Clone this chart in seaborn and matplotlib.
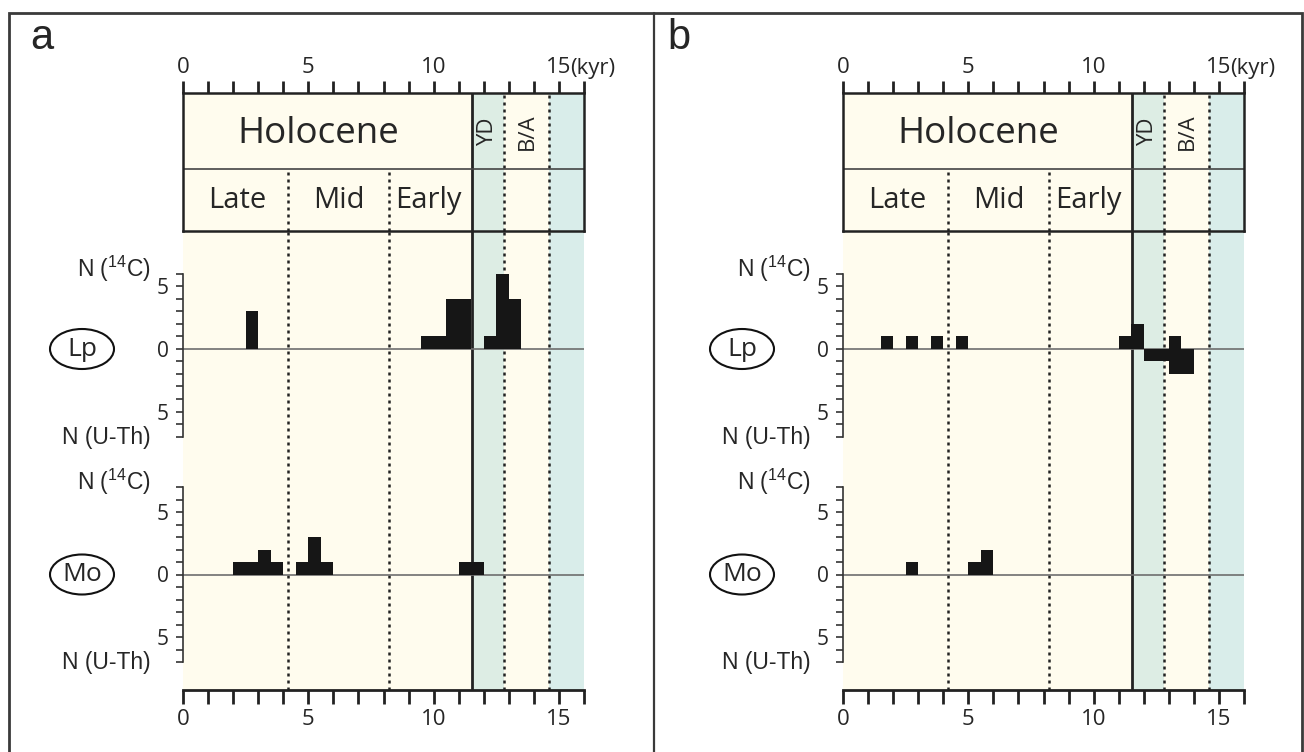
import numpy as np
import pandas as pd
import matplotlib
matplotlib.use("Agg")
import matplotlib.pyplot as plt
from matplotlib.patches import Ellipse, Rectangle
import seaborn as sns

sns.set_theme(style="white")
plt.rcParams['font.family'] = ['Open Sans', 'DejaVu Sans']

# ages in kyr, counts per 0.5 kyr bin (bin start)
bin_width = 0.5
lp_a_c14_age = [2.5, 9.5, 10.0, 10.5, 11.0, 12.0, 12.5, 13.0]
lp_a_c14_n = [3, 1, 1, 4, 4, 1, 6, 4]
lp_a_uth_age = []
lp_a_uth_n = []
mo_a_c14_age = [2.0, 2.5, 3.0, 3.5, 4.5, 5.0, 5.5, 11.0, 11.5]
mo_a_c14_n = [1, 1, 2, 1, 1, 3, 1, 1, 1]
mo_a_uth_age = []
mo_a_uth_n = []

lp_b_c14_age = [1.5, 2.5, 3.5, 4.5, 11.0, 11.5, 13.0]
lp_b_c14_n = [1, 1, 1, 1, 1, 2, 1]
lp_b_uth_age = [12.0, 12.5, 13.0, 13.5]
lp_b_uth_n = [1, 1, 2, 2]
mo_b_c14_age = [2.5, 5.0, 5.5]
mo_b_c14_n = [1, 1, 2]
mo_b_uth_age = []
mo_b_uth_n = []

# period boundaries (kyr)
late_mid = 4.2
mid_early = 8.2
holocene_start = 11.55
yd_ba = 12.8
ba_start = 14.6
x_max = 16

cream = "#FFFCEE"
yd_col = "#DDEDE4"
old_col = "#D9EDEA"

W, H = 1304, 752
fig = plt.figure(figsize=(W / 100, H / 100), dpi=100)


def px(x, y, w, h):
    return [x / W, 1 - (y + h) / H, w / W, h / H]


# overlay in pixel coordinates for frame and labels
over = fig.add_axes([0, 0, 1, 1])
over.set_xlim(0, W)
over.set_ylim(H, 0)
over.axis("off")
over.add_patch(Rectangle((9, 13), 1293, 740, fill=False, ec="#3a3a3a", lw=2))
over.plot([654, 654], [13, H], color="#3a3a3a", lw=1.6)

dot = (0, (1.2, 1.6))


def bars(ax, ages, counts, sign):
    if not ages:
        return
    df = pd.DataFrame({"age": [a + bin_width / 2 for a in ages],
                       "n": [sign * n for n in counts]})
    sns.histplot(data=df, x="age", weights="n", binwidth=bin_width,
                 binrange=(0, x_max), ax=ax, color="#161616", alpha=1, linewidth=0)


def panel(dx, letter, sets):
    x0 = 183 + dx
    aw = 401
    over.text(42 + dx - (dx and 23), 38, letter, fontsize=30, family="Liberation Sans",
              ha="center", va="center")

    # background of the plot area
    bg = fig.add_axes(px(x0, 231, aw, 459))
    hd = fig.add_axes(px(x0, 93, aw, 138))
    for ax in (bg, hd):
        ax.set_xlim(0, x_max)
        ax.set_ylim(0, 1)
        ax.axvspan(0, holocene_start, color=cream, lw=0)
        ax.axvspan(holocene_start, yd_ba, color=yd_col, lw=0)
        ax.axvspan(yd_ba, ba_start, color=cream, lw=0)
        ax.axvspan(ba_start, x_max, color=old_col, lw=0)
        ax.axvline(holocene_start, color="#222222", lw=2)
        for b in (yd_ba, ba_start):
            ax.axvline(b, color="#222222", lw=1.8, ls=dot)
    mid_y = (231 - 169) / 138
    for b in (late_mid, mid_early):
        bg.axvline(b, color="#222222", lw=1.8, ls=dot)
        hd.axvline(b, ymin=0, ymax=mid_y, color="#222222", lw=1.8, ls=dot)

    # header box
    hd.axhline(mid_y, color="#444444", lw=1.2)
    for s in hd.spines.values():
        s.set_visible(True)
        s.set_color("#222222")
        s.set_linewidth(1.8)
    hd.set_yticks([])
    hd.set_xticks(range(0, x_max + 1))
    hd.set_xticklabels([str(t) if t % 5 == 0 and t < 16 else "" for t in range(0, x_max + 1)])
    hd.xaxis.set_ticks_position("top")
    hd.tick_params(axis="x", direction="out", length=9, width=2, color="#222222",
                   labelsize=16, pad=2)
    hd.text(15.45, 1.175, "(kyr)", transform=hd.get_xaxis_transform(), fontsize=16,
            ha="left", va="center")
    hd.text(5.4, 0.70, "Holocene", fontsize=26.5, ha="center", va="center")
    hd.text(2.15, 0.22, "Late", fontsize=21, ha="center", va="center")
    hd.text(6.2, 0.22, "Mid", fontsize=21, ha="center", va="center")
    hd.text(9.8, 0.22, "Early", fontsize=21, ha="center", va="center")
    hd.text(12.17, 0.72, "YD", fontsize=16, rotation=90, ha="center", va="center")
    hd.text(13.76, 0.72, "B/A", fontsize=16, rotation=90, ha="center", va="center")

    # bottom axis
    for k, s in bg.spines.items():
        s.set_visible(k == "bottom")
    bg.spines["bottom"].set_color("#222222")
    bg.spines["bottom"].set_linewidth(2)
    bg.set_yticks([])
    bg.set_xticks(range(0, x_max + 1))
    bg.set_xticklabels([str(t) if t % 5 == 0 and t < 16 else "" for t in range(0, x_max + 1)])
    bg.tick_params(axis="x", bottom=True, direction="out", length=10, width=2,
                   color="#222222", labelsize=16, pad=4)

    # record rows
    for (name, ytop, top, c14_age, c14_n, uth_age, uth_n) in sets:
        bot = -7
        hgt = (top - bot) * 12.5
        ax = fig.add_axes(px(x0, ytop, aw, hgt))
        ax.patch.set_alpha(0)
        bars(ax, c14_age, c14_n, 1)
        bars(ax, uth_age, uth_n, -1)
        ax.axhline(0, color="#6e6e6e", lw=1.2, zorder=0)
        ax.set_xlim(0, x_max)
        ax.set_ylim(bot, top)
        ax.set_xlabel("")
        ax.set_ylabel("")
        ax.set_xticks([])
        for k, s in ax.spines.items():
            s.set_visible(k == "left")
        ax.spines["left"].set_color("#333333")
        ax.spines["left"].set_linewidth(1.2)
        ax.set_yticks(range(bot, top + 1))
        ax.set_yticklabels([str(abs(t)) if t % 5 == 0 else "" for t in range(bot, top + 1)])
        ax.tick_params(axis="y", left=True, direction="out", length=5, width=1.2,
                       color="#333333", labelsize=15, pad=5)
        zero_y = ytop + top * 12.5
        over.add_patch(Ellipse((82 + dx, zero_y), 64, 40, fill=False, ec="#111111", lw=1.5))
        over.text(82 + dx, zero_y, name, fontsize=19, ha="center", va="center")
        over.text(151 + dx, ytop - 5, r"N ($\mathregular{^{14}}$C)", fontsize=16.5,
                  family="Liberation Sans", ha="right", va="center")
        over.text(151 + dx, ytop + hgt + 1, "N (U-Th)", fontsize=16.5,
                  family="Liberation Sans", ha="right", va="center")


panel(0, "a", [("Lp", 274, 6, lp_a_c14_age, lp_a_c14_n, lp_a_uth_age, lp_a_uth_n),
               ("Mo", 487, 7, mo_a_c14_age, mo_a_c14_n, mo_a_uth_age, mo_a_uth_n)])
panel(660, "b", [("Lp", 274, 6, lp_b_c14_age, lp_b_c14_n, lp_b_uth_age, lp_b_uth_n),
                 ("Mo", 487, 7, mo_b_c14_age, mo_b_c14_n, mo_b_uth_age, mo_b_uth_n)])

fig.savefig("out.png", dpi=100)
